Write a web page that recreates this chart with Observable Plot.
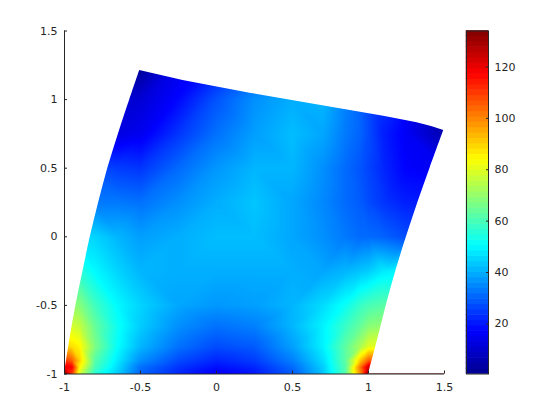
<!DOCTYPE html>
<html>
<head>
<meta charset="utf-8">
<script src="https://cdn.jsdelivr.net/npm/d3@7"></script>
<script src="https://cdn.jsdelivr.net/npm/@observablehq/plot@0.6"></script>
<style>
html,body{margin:0;padding:0;background:#fff;}
#chart{position:relative;width:560px;height:420px;overflow:hidden;}
#chart svg{position:absolute;top:0;background:transparent;}
</style>
</head>
<body>
<div id="chart"></div>
<script>
// Sample positions of the field (data units)
const gridX = [-1,-.95,-.9,-.8,-.65,-.5,-.25,0,.25,.5,.7,.85,.95,1,1.1,1.25,1.5];
const gridY = [-1,-.95,-.9,-.8,-.65,-.5,-.25,0,.25,.5,.75,1,1.25];
// Field values: one row per gridY entry
const gridValues = [
 [134,110,78,56,44,30,22,16,20,29,43,62,100,134,134,134,134],
 [120,118,85,60,46,32,24,19,22,31,44,62,104,125,125,125,125],
 [110,105,90,62,48,36,27,22,25,34,46,63,92,105,105,105,105],
 [90,88,85,67,51,41,32,27,29,38,49,63,73,80,80,80,80],
 [78,78,76,64,52,44,36,32,34,41,49,58,64,68,70,70,70],
 [70,70,68,59,50,45,39,37,38,41,46,52,58,60,62,62,62],
 [57,57,56,50,45,41,40,40,40,40,39,41,43,44,48,50,50],
 [46,46,46,45,41,38,40,42,42,39,36,33,31,31,30,27,27],
 [33,33,33,33,33,32,36,40,43,39,35,31,29,27,24,21,20],
 [27,27,27,27,25,24,31,37,41,41,36,31,28,26,22,17,15],
 [13,13,13,13,13,15,24,32,38,42,39,33,30,27,21,16,5],
 [10,10,10,10,10,11,18,28,36,40,41,34,30,27,24,15,2],
 [1,1,1,1,1,1,14,20,28,34,37,34,30,26,20,10,1]
];
// Outline of the deformed domain
const leftEdgeY = [-1,-.75,-.5,-.25,0,.25,.5,.75,1,1.212];
const leftEdgeX = [-1,-.965,-.925,-.878,-.83,-.775,-.715,-.645,-.57,-.505];
const rightEdgeY = [-1,-.75,-.5,-.25,0,.25,.5,.775];
const rightEdgeX = [1.0,1.06,1.117,1.18,1.25,1.325,1.405,1.495];
const topEdgeX = [-1,-.6,-.505,-.22,.22,.66,1.10,1.32,1.42,1.495,1.6];
const topEdgeY = [1.15,1.15,1.212,1.139,1.047,.962,.879,.831,.803,.775,.7];
const axisTicks = [-1,-.5,0,.5,1,1.5];
const colorbarTicks = [20,40,60,80,100,120];
const colorMin = 0.5, colorMax = 134, colorLevels = 64;
const jetColors = ["#00008f","#0000ff","#0080ff","#00ffff","#80ff80","#ffff00","#ff8000","#ff0000","#800000"];

const ink = "#262626";
const font = "'DejaVu Sans', sans-serif";
const levels = d3.range(colorLevels);
const step = (colorMax-colorMin)/colorLevels;
const colorScale = {
  type:"linear",
  domain: jetColors.map((c,i)=>colorMin+(colorMax-colorMin)*i/(jetColors.length-1)),
  range: jetColors
};
const field = gridY.flatMap((y,j)=>gridX.map((x,i)=>({x,y,v:gridValues[j][i]})));
const zip = (xs,ys)=>xs.map((x,i)=>({x,y:ys[i]}));

const main = Plot.plot({
  width:560,height:420,
  marginLeft:64,marginRight:116,marginTop:30.5,marginBottom:46.5,
  style:{fontFamily:font,fontSize:"11px",color:ink,background:"transparent",overflow:"visible"},
  x:{domain:[-1,1.5]},
  y:{domain:[-1,1.5]},
  color:colorScale,
  marks:[
    Plot.raster(field,{x:"x",y:"y",fill:"v",interpolate:"barycentric"}),
    Plot.areaX(zip(leftEdgeX,leftEdgeY),{y:"y",x1:-1,x2:"x",fill:"white",curve:"catmull-rom"}),
    Plot.areaX(zip(rightEdgeX,rightEdgeY),{y:"y",x1:"x",x2:1.6,fill:"white",curve:"catmull-rom"}),
    Plot.areaY(zip(topEdgeX,topEdgeY),{x:"x",y1:"y",y2:1.6,fill:"white"}),
    Plot.ruleX([-1],{stroke:ink}),
    Plot.ruleY([-1],{stroke:ink}),
    Plot.axisX({ticks:axisTicks,tickFormat:String,tickSize:-3,tickPadding:12,label:null,stroke:ink,fill:ink,fontSize:11}),
    Plot.axisY({ticks:axisTicks,tickFormat:String,tickSize:-3,tickPadding:10,label:null,stroke:ink,fill:ink,fontSize:11})
  ]
});
main.style.left="0px";

const bar = Plot.plot({
  width:90,height:420,
  marginLeft:10,marginRight:58,marginTop:30.5,marginBottom:46.5,
  style:{fontFamily:font,fontSize:"11px",color:ink,background:"transparent"},
  x:{domain:[0,1],axis:null},
  y:{domain:[colorMin,colorMax]},
  color:colorScale,
  marks:[
    Plot.rect(levels,{x1:0,x2:1,y1:i=>colorMin+i*step,y2:i=>colorMin+(i+1)*step,fill:i=>colorMin+(i+.5)*step,inset:-0.3}),
    Plot.frame({stroke:ink}),
    Plot.axisY({anchor:"right",ticks:colorbarTicks,tickSize:-3,tickPadding:9,label:null,stroke:ink,fill:ink,fontSize:11})
  ]
});
bar.style.left="456px";
document.getElementById("chart").append(main,bar);
</script>
</body>
</html>
